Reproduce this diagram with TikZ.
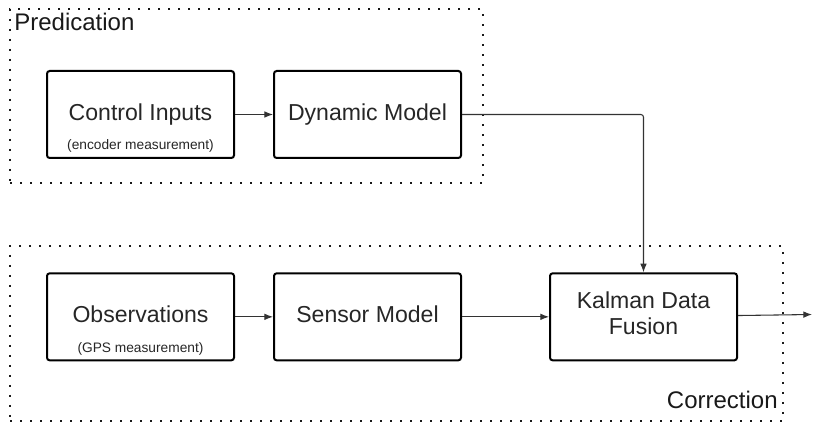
\documentclass[tikz,border=0pt]{standalone}
\usepackage{fontspec}
\setmainfont{Liberation Sans}
\usepackage{tikz}
\usetikzlibrary{arrows.meta,positioning}

\begin{document}
\begin{tikzpicture}[
    x = 0.75pt, y = -0.75pt, % one unit = one pixel
    > = {Latex[length=6.5pt,width=5pt]}, % arrow head style
    flow/.style = {->, line width=0.8pt, draw=black!80},
    semithick % line style
    ]

    \tikzset{
    block/.style = {draw = black, line width = 1.5pt, rounded corners = 2pt,
        minimum width = 140.25pt, minimum height = 65.25pt,
        font = \fontsize{17.3}{19.5}\selectfont, text = black!85},
    oneline/.style = {text height = 12.6pt, text depth = 4pt},
    sublabel/.style = {anchor = base, inner sep = 0pt,
        font = \fontsize{10.3}{12}\selectfont, text = black!85},
    group/.style = {draw = black!90, line width = 1.6pt,
        dash pattern = on 1.6pt off 5.9pt},
    grouplabel/.style = {inner sep = 0pt, font = \fontsize{18}{21}\selectfont, text = black!90}
    }
    \useasboundingbox (0,0) rectangle (813,424);

    % dotted groups
    \node[group, minimum width=354.75pt, minimum height=130.5pt] (pred) at (246.5,96) {};
    \node[group, minimum width=579.75pt, minimum height=131.25pt] (corr) at (396.5,333.5) {};
    \node[grouplabel, anchor=base west] (predtext) at ([xshift=3.75pt,yshift=-17.25pt]pred.north west) {Predication};
    \node[grouplabel, anchor=base east] (corrtext) at ([xshift=-4.5pt,yshift=10.5pt]corr.south east) {Correction};

    % blocks
    \node[block, oneline] (ctrl) at (140.5,114.5) {Control Inputs};
    \node[block, oneline] (dyn) [right=28.5pt of ctrl] {Dynamic Model};
    \node[block, oneline] (obs) [below=85pt of ctrl] {Observations};
    \node[block, oneline] (sens) [right=28.5pt of obs] {Sensor Model};
    \node[block, align=center, text depth=6pt] (fusion) [right=65.25pt of sens] {Kalman Data\\Fusion};

    \node[sublabel] (ctrlsub) at ([yshift=6.75pt]ctrl.south) {(encoder measurement)};
    \node[sublabel] (obssub) at ([yshift=6.75pt]obs.south) {(GPS measurement)};

    \coordinate (out) at (812,314.5);

    \draw[flow] (ctrl) -- (dyn);
    \draw[flow] (obs) -- (sens);
    \draw[flow] (sens) -- (fusion);
    \draw[flow, rounded corners=2pt] (dyn.east) -| (fusion.north);
    \draw[flow] (fusion) -- (out);
\end{tikzpicture}
\end{document}
